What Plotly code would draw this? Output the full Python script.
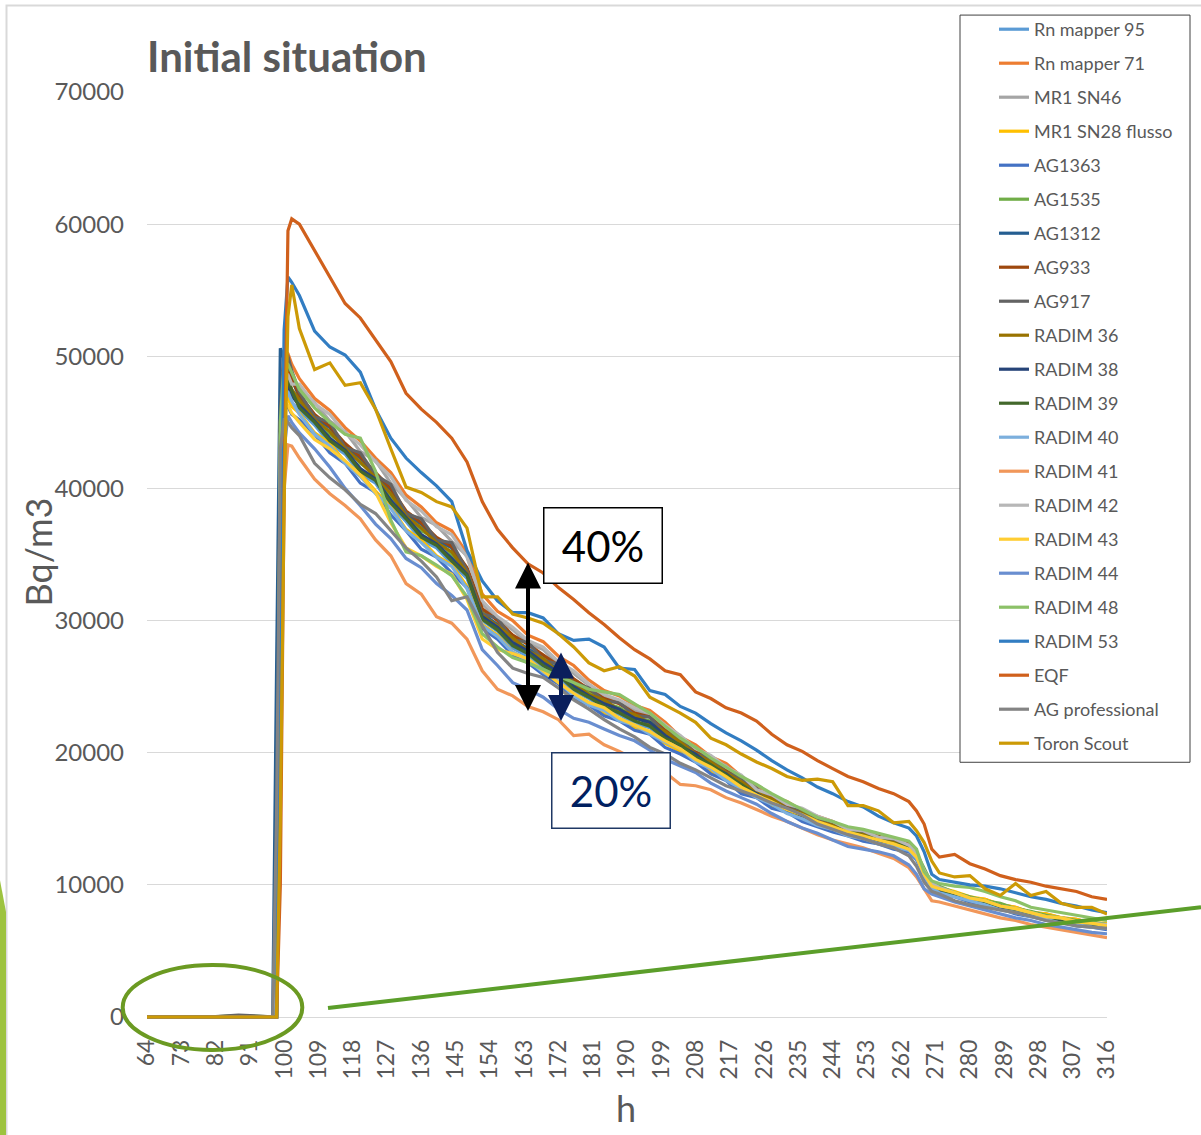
import plotly.graph_objects as go

# ---------------- data ----------------
hours = [64, 72, 80, 88, 96, 97, 98, 99, 100, 101, 102,
         104, 108, 112, 116, 120, 124, 128, 132, 136, 140, 144, 148,
         152, 156, 160, 164, 168, 172, 176,
         180, 184, 188, 192, 196, 200,
         204, 208, 212, 216, 220,
         224, 228, 232, 236, 240,
         244, 248, 252, 256, 260, 264,
         266, 268, 270, 272,
         276, 280, 284, 288, 292, 296, 300, 304, 308, 312, 316]

x_ticks = [64, 73, 82, 91, 100, 109, 118, 127, 136, 145, 154, 163, 172, 181, 190,
           199, 208, 217, 226, 235, 244, 253, 262, 271, 280, 289, 298, 307, 316]
y_ticks = [0, 10000, 20000, 30000, 40000, 50000, 60000, 70000]

series_names = ["Rn mapper 95", "Rn mapper 71", "MR1 SN46", "MR1 SN28 flusso", "AG1363",
                "AG1535", "AG1312", "AG933", "AG917", "RADIM 36", "RADIM 38", "RADIM 39",
                "RADIM 40", "RADIM 41", "RADIM 42", "RADIM 43", "RADIM 44", "RADIM 48",
                "RADIM 53", "EQF", "AG professional", "Toron Scout"]

rn_mapper_95 = [0, 0, 0, 0, 0, 0, 0, 40000, 47500, 47200, 46500,
    45900, 44800, 43400, 42600, 41100, 40400, 38700, 37500, 36100, 35500, 34300, 33200,
    30000, 29200, 27900, 27300, 26400, 25700, 24700,
    24100, 23300, 22900, 22200, 21900, 20900,
    20300, 19700, 18800, 18300, 17300,
    16800, 16100, 15700, 15100, 14700,
    14300, 13800, 13700, 13200, 13000, 12600,
    12100, 10800, 9800, 9600,
    9200, 8800, 8600, 8300, 8000, 7700, 7400, 7300, 7000, 6900, 6800]
rn_mapper_71 = [0, 0, 0, 0, 0, 0, 0, 42000, 50500, 50200, 49400,
    48300, 46800, 45900, 44600, 43600, 42300, 41200, 39500, 38600, 37400, 36800, 35100,
    32000, 30700, 30000, 28900, 28400, 27300, 26600,
    25500, 24700, 24300, 23600, 23200, 22300,
    21200, 20600, 19700, 19200, 18200,
    17400, 16600, 16300, 15600, 15200,
    14800, 14200, 14100, 13600, 13500, 13100,
    12500, 11000, 10100, 9800,
    9400, 9000, 8900, 8500, 8300, 7900, 7800, 7500, 7400, 7100, 7000]
mr1_sn46 = [0, 0, 0, 0, 0, 0, 0, 44000, 48500, 48600, 48000,
    47600, 46500, 45100, 44300, 42800, 42100, 40400, 39200, 37800, 37200, 36000, 34900,
    31300, 30100, 29300, 28300, 27800, 26700, 26000,
    25100, 24300, 23900, 23200, 22900, 21900,
    21000, 20400, 19500, 19000, 18000,
    17300, 16500, 16200, 15500, 15100,
    14600, 14100, 13900, 13500, 13300, 12900,
    12200, 10900, 9900, 9700,
    9200, 8900, 8700, 8300, 8000, 7800, 7500, 7300, 7100, 6900, 6800]
mr1_sn28_flusso = [0, 0, 0, 0, 0, 0, 0, 38000, 47000, 46800, 46200,
    45700, 44200, 43400, 42000, 41100, 39800, 38600, 36900, 36100, 34900, 34200, 32600,
    29700, 28900, 27600, 27000, 26100, 25400, 24400,
    23800, 23000, 22600, 21900, 21600, 20700,
    20100, 19500, 18600, 18100, 17100,
    16800, 16000, 15700, 15000, 14700,
    14400, 14000, 13600, 13500, 13000, 12800,
    12300, 11100, 10000, 9800,
    9500, 9100, 8900, 8500, 8300, 7900, 7800, 7500, 7400, 7100, 7100]
ag1363 = [0, 0, 0, 0, 0, 0, 0, 36000, 46000, 46200, 45600,
    45200, 44100, 42700, 41900, 40400, 39700, 38000, 36800, 35400, 34800, 33600, 32500,
    29400, 28600, 27400, 26800, 25900, 25200, 24100,
    23600, 22800, 22400, 21700, 21400, 20400,
    19900, 19300, 18400, 17900, 16900,
    16600, 15800, 15500, 14800, 14400,
    14000, 13700, 13300, 13100, 12700, 12500,
    11900, 10600, 9700, 9400,
    9100, 8700, 8500, 8200, 7800, 7600, 7300, 7200, 6900, 6800, 6600]
ag1535 = [0, 0, 0, 100, 0, 0, 0, 43000, 48000, 47900, 47300,
    46600, 45500, 44100, 43300, 41900, 41100, 39400, 38200, 36800, 36200, 35000, 33900,
    30700, 29500, 28700, 27800, 27200, 26200, 25400,
    24600, 23800, 23400, 22700, 22400, 21500,
    20900, 19900, 19400, 18500, 17900,
    17000, 16600, 15900, 15600, 15000,
    14700, 14200, 14000, 13600, 13400, 13000,
    12400, 11200, 10100, 9900,
    9400, 9100, 8800, 8600, 8200, 8000, 7700, 7500, 7300, 7200, 7000]
ag1312 = [0, 0, 0, 0, 0, 0, 26000, 50600, 49800, 49300, 48300,
    46900, 45400, 44600, 43200, 42300, 41000, 39900, 38100, 37300, 36100, 35500, 33800,
    30500, 29700, 28500, 27900, 27000, 26300, 25200,
    24300, 23900, 23100, 22800, 22100, 21500,
    20600, 20000, 19100, 18600, 17600,
    17100, 16300, 16000, 15300, 14900,
    14400, 14200, 13700, 13500, 13100, 12900,
    12200, 10900, 9900, 9600,
    9200, 8900, 8600, 8300, 8100, 7700, 7500, 7300, 7100, 6900, 6800]
ag933 = [0, 0, 0, 0, 0, 0, 0, 45000, 49000, 48800, 48200,
    47100, 45600, 44700, 43400, 42400, 41200, 40000, 38300, 37400, 36300, 35600, 34000,
    30900, 30000, 28900, 28200, 27400, 26600, 25600,
    24800, 24100, 23700, 23000, 22700, 21700,
    21100, 20100, 19600, 18700, 18100,
    17200, 16700, 16000, 15700, 15100,
    14600, 14300, 13900, 13700, 13300, 13100,
    12300, 11000, 10000, 9700,
    9300, 9000, 8700, 8400, 8100, 7800, 7600, 7400, 7200, 7000, 6900]
ag917 = [0, 0, 0, 150, 0, 0, 0, 46000, 50400, 50000, 48900,
    47300, 45400, 45000, 43100, 42700, 41000, 40300, 38100, 37700, 36100, 35900, 33800,
    30500, 30200, 28500, 28400, 27000, 26700, 25300,
    24900, 23900, 23800, 22800, 22700, 21500,
    21100, 19900, 19600, 18500, 18100,
    17300, 16400, 16200, 15400, 15100,
    14600, 14000, 13900, 13400, 13300, 12800,
    12300, 10900, 9900, 9600,
    9300, 8900, 8700, 8300, 8100, 7700, 7600, 7300, 7200, 6900, 6900]
radim_36 = [0, 0, 0, 0, 0, 0, 0, 42000, 48500, 48300, 47500,
    46700, 45200, 44300, 43000, 42000, 40800, 39600, 37900, 37000, 35900, 35200, 33600,
    30400, 29600, 28700, 27700, 27100, 26100, 25300,
    24400, 24000, 23200, 22900, 22200, 21600,
    20800, 19900, 19300, 18500, 17800,
    17000, 16500, 15800, 15400, 14800,
    14500, 14000, 13800, 13400, 13200, 12800,
    12200, 10900, 10000, 9700,
    9300, 8900, 8700, 8400, 8000, 7800, 7600, 7300, 7200, 7000, 6900]
radim_38 = [0, 0, 0, 0, 0, 0, 0, 41000, 48000, 47700, 47000,
    46300, 45100, 43800, 42900, 41500, 40700, 39100, 37800, 36500, 35800, 34700, 33500,
    30300, 29500, 28300, 27700, 26800, 26100, 25000,
    24300, 23700, 23300, 22600, 22300, 21300,
    20500, 19900, 19000, 18400, 17500,
    16900, 16200, 15800, 15200, 14800,
    14300, 14000, 13600, 13400, 13000, 12800,
    12100, 10800, 9900, 9600,
    9200, 8900, 8600, 8300, 8000, 7700, 7500, 7300, 7100, 6900, 6800]
radim_39 = [0, 0, 0, 0, 0, 0, 0, 43000, 48500, 48200, 47400,
    46100, 45000, 43600, 42800, 41300, 40600, 38900, 37700, 36300, 35700, 34500, 33400,
    30100, 29300, 28100, 27500, 26600, 25900, 24800,
    24200, 23500, 23000, 22400, 22000, 21100,
    20600, 19700, 19100, 18300, 17600,
    16800, 16300, 15700, 15300, 14700,
    14400, 14100, 13700, 13500, 13100, 12900,
    12300, 11000, 10000, 9700,
    9200, 9000, 8600, 8400, 8000, 7800, 7500, 7400, 7100, 7000, 6800]
radim_40 = [0, 0, 0, 0, 0, 0, 0, 40000, 47500, 47300, 46600,
    45600, 44100, 43200, 41900, 40900, 39600, 38500, 36800, 35900, 34800, 34100, 32400,
    29600, 28800, 27600, 27000, 26100, 25400, 24300,
    23600, 23200, 22400, 22100, 21400, 20800,
    20300, 19300, 18800, 17900, 17300,
    16600, 16100, 15400, 15000, 14500,
    14200, 13700, 13500, 13100, 12900, 12600,
    12000, 10700, 9800, 9400,
    9100, 8800, 8500, 8100, 7900, 7600, 7400, 7100, 7000, 6800, 6700]
radim_41 = [0, 0, 0, 0, 0, 0, 0, 25000, 40000, 43300, 43200,
    42300, 40700, 39600, 38700, 37700, 36100, 34900, 32800, 32000, 30300, 29800, 28600,
    26200, 24800, 24300, 23500, 23100, 22500, 21300,
    21400, 20600, 20100, 19500, 18900, 18500,
    17600, 17500, 17200, 16600, 16200,
    15700, 15200, 14800, 14300, 13800,
    13400, 13100, 12800, 12400, 12000, 11300,
    10600, 9700, 8800, 8700,
    8400, 8100, 7800, 7500, 7300, 7000, 6800, 6600, 6400, 6200, 6000]
radim_42 = [0, 0, 0, 0, 0, 0, 0, 44000, 48700, 48600, 47900,
    47900, 46400, 45600, 44200, 43300, 42000, 40900, 39100, 38300, 37100, 36500, 34800,
    31500, 30300, 29500, 28500, 28000, 26900, 26200,
    25200, 24400, 24000, 23400, 23000, 22100,
    21300, 20300, 19800, 18900, 18300,
    17200, 16800, 16100, 15800, 15200,
    14800, 14200, 14100, 13600, 13500, 13000,
    12400, 11100, 10100, 9800,
    9400, 9000, 8800, 8400, 8200, 7900, 7600, 7500, 7200, 7100, 7000]
radim_43 = [0, 0, 0, 0, 0, 0, 0, 39000, 46600, 46300, 45700,
    45000, 43700, 43000, 42100, 41000, 39700, 37400, 35500, 34900, 34100, 33500, 31600,
    28600, 27800, 27500, 27100, 26200, 25300, 24500,
    23800, 23400, 22600, 22100, 21600, 20900,
    20300, 19500, 18900, 18200, 17400,
    16800, 16300, 15700, 15300, 14800,
    14400, 14000, 13700, 13400, 13100, 12700,
    12100, 10800, 9900, 9700,
    9400, 9000, 8800, 8400, 8200, 7900, 7600, 7500, 7200, 7100, 6900]
radim_44 = [0, 0, 0, 0, 0, 0, 0, 30000, 43000, 45500, 45000,
    44200, 43000, 41600, 40000, 38700, 37300, 36200, 34700, 34000, 32800, 31900, 30800,
    27800, 26600, 25300, 24800, 24200, 23300, 22600,
    22300, 21800, 21300, 20900, 20200, 19500,
    19000, 18500, 17700, 17100, 16600,
    16100, 15400, 14800, 14300, 13900,
    13400, 12900, 12700, 12500, 12200, 11500,
    10800, 9700, 9300, 9100,
    8700, 8400, 8100, 7800, 7500, 7300, 7000, 6800, 6600, 6400, 6300]
radim_48 = [0, 0, 0, 0, 0, 0, 0, 45000, 49600, 49400, 48800,
    47500, 46100, 45000, 44100, 43800, 41300, 37600, 35200, 34900, 34200, 33400, 31800,
    29000, 28000, 27200, 26800, 26300, 25800, 25300,
    24800, 24600, 24400, 23700, 23000, 22000,
    21100, 20400, 19600, 18900, 18200,
    17600, 16900, 16300, 15700, 15100,
    14800, 14400, 14200, 13900, 13600, 13300,
    12700, 11000, 10300, 10100,
    9900, 9800, 9500, 9100, 8800, 8300, 8100, 7900, 7700, 7500, 7300]
radim_53 = [0, 0, 0, 0, 0, 0, 0, 30000, 52000, 56000, 55600,
    54600, 51900, 50700, 50100, 48800, 46000, 43800, 42300, 41200, 40200, 39000, 35300,
    33000, 31500, 30600, 30600, 30200, 29000, 28500,
    28600, 28000, 26400, 26300, 24700, 24400,
    23500, 23000, 22200, 21500, 20900,
    20200, 19400, 18700, 18100, 17400,
    16900, 16300, 15900, 15200, 14700, 14300,
    13700, 12500, 10800, 10400,
    10200, 10000, 9900, 9700, 9400, 9100, 8900, 8600, 8400, 8100, 7900]
eqf = [0, 0, 0, 0, 0, 0, 0, 10000, 40000, 59500, 60400,
    60000, 58000, 56000, 54000, 52900, 51200, 49600, 47200, 46000, 45000, 43800, 42000,
    39000, 36900, 35500, 34300, 33600, 32500, 31600,
    30600, 29700, 28700, 27800, 27100, 26200,
    25900, 24600, 24100, 23400, 23000,
    22400, 21400, 20600, 20100, 19400,
    18800, 18200, 17800, 17300, 16900, 16300,
    15600, 14600, 12700, 12100,
    12300, 11600, 11200, 10700, 10400, 10200, 9900, 9700, 9500, 9100, 8900]
ag_professional = [0, 0, 0, 0, 0, 0, 15000, 43000, 45300, 45000, 44600,
    44000, 41900, 40800, 39900, 38800, 38100, 36800, 35500, 34500, 33300, 31500, 31800,
    29600, 27600, 26400, 26000, 25700, 24900, 24000,
    23300, 22500, 21800, 21200, 20400, 19900,
    19200, 18700, 18100, 17500, 17100,
    16700, 16200, 15800, 15300, 14600,
    14200, 13800, 13500, 13100, 12800, 12200,
    11400, 10200, 9500, 9300,
    8800, 8500, 8300, 8100, 7900, 7600, 7300, 7100, 6900, 6800, 6700]
toron_scout = [0, 0, 0, 0, 0, 0, 0, 15000, 39000, 53000, 55400,
    52100, 49000, 49500, 47800, 48000, 46000, 43000, 40100, 39700, 39000, 38600, 37000,
    31800, 31800, 30500, 30200, 29800, 29000, 28000,
    26800, 26200, 26500, 25800, 24200, 23600,
    23000, 22300, 21100, 20600, 19900,
    19300, 18800, 18200, 17900, 18000,
    17800, 16000, 16000, 15600, 14700, 14800,
    14100, 13200, 11800, 10900,
    10600, 10700, 9700, 9200, 10100, 9200, 9500, 8600, 8300, 8300, 7800]

series_values = [rn_mapper_95, rn_mapper_71, mr1_sn46, mr1_sn28_flusso, ag1363, ag1535,
                 ag1312, ag933, ag917, radim_36, radim_38, radim_39, radim_40, radim_41,
                 radim_42, radim_43, radim_44, radim_48, radim_53, eqf, ag_professional,
                 toron_scout]

series_colors = ["#5B9BD5", "#ED7D31", "#A5A5A5", "#FFC000", "#4472C4", "#70AD47",
                 "#255E91", "#9E480E", "#636363", "#997300", "#264478", "#43682B",
                 "#7CAFDD", "#F1975A", "#B7B7B7", "#FFCD33", "#698ED0", "#8CC168",
                 "#327DC2", "#D0601C", "#848484", "#CC9A06"]

for n, v in zip(series_names, series_values):
    assert len(v) == len(hours), (n, len(v))

# ---------------- layout geometry ----------------
W_FIG, H_FIG = 1201, 1135
L, T = 147, 91
PW, PH = 960, 929
R = W_FIG - L - PW
B = H_FIG - T - PH
FONT = "Lato"
GREY = "#595959"


def px_x(px):
    return (px - L) / PW


def px_y(py):
    return (T + PH - py) / PH


fig = go.Figure()
for name, vals, col in zip(series_names, series_values, series_colors):
    fig.add_trace(go.Scatter(x=hours, y=vals, mode="lines", name=name,
                             legendgroup=name,
                             line=dict(color=col, width=3.2)))

shapes = [
    dict(type="rect", xref="paper", yref="paper", x0=px_x(6.5), x1=px_x(1215),
         y0=px_y(1150), y1=px_y(4.5), line=dict(color="#D9D9D9", width=2),
         fillcolor="rgba(0,0,0,0)", layer="below"),
    dict(type="path", xref="paper", yref="paper",
         path=f"M {px_x(0)},{px_y(880)} L {px_x(6)},{px_y(912)} L {px_x(6)},{px_y(1140)} "
              f"L {px_x(0)},{px_y(1140)} Z",
         fillcolor="#9DC33F", line=dict(width=0), layer="above"),
    dict(type="rect", xref="paper", yref="paper", x0=px_x(960), x1=px_x(1190),
         y0=px_y(762), y1=px_y(14), line=dict(color="#404040", width=1),
         fillcolor="white", layer="above"),
    dict(type="circle", xref="paper", yref="paper", x0=px_x(122.7), x1=px_x(302.3),
         y0=px_y(1050), y1=px_y(965), line=dict(color="#6B9A22", width=4), layer="above"),
    dict(type="line", xref="paper", yref="paper", x0=px_x(328), y0=px_y(1008),
         x1=px_x(1201), y1=px_y(907), line=dict(color="#5B9E2A", width=4), layer="above"),
]

annotations = [
    dict(text="<b>Initial situation</b>", xref="paper", yref="paper", x=px_x(145),
         y=px_y(55), xanchor="left", yanchor="middle", showarrow=False,
         font=dict(family=FONT, size=42, color=GREY)),
    dict(text="h", xref="paper", yref="paper", x=px_x(626), y=px_y(1108),
         xanchor="center", yanchor="middle", showarrow=False,
         font=dict(family=FONT, size=36, color=GREY)),
    dict(text="Bq/m3", xref="paper", yref="paper", x=px_x(38), y=px_y(552),
         xanchor="center", yanchor="middle", showarrow=False, textangle=-90,
         font=dict(family=FONT, size=36, color=GREY)),
    dict(text="40%", xref="paper", yref="paper", x=px_x(602.5), y=px_y(544.5),
         xanchor="center", yanchor="middle", showarrow=False, width=117, height=74,
         bordercolor="#000000", borderwidth=1.5, borderpad=0, bgcolor="white",
         font=dict(family=FONT, size=42, color="#000000")),
    dict(text="20%", xref="paper", yref="paper", x=px_x(610.5), y=px_y(790),
         xanchor="center", yanchor="middle", showarrow=False, width=117, height=74,
         bordercolor="#1F3864", borderwidth=1.5, borderpad=0, bgcolor="white",
         font=dict(family=FONT, size=42, color="#002060")),
    dict(text="", xref="paper", yref="paper", x=px_x(528), y=px_y(562),
         ax=0, ay=150,
         showarrow=True, arrowside="end+start", arrowhead=2, arrowsize=1.3,
         arrowwidth=4, arrowcolor="#000000"),
    dict(text="", xref="paper", yref="paper", x=px_x(561), y=px_y(652),
         ax=0, ay=70,
         showarrow=True, arrowside="end+start", arrowhead=2, arrowsize=1.3,
         arrowwidth=4, arrowcolor="#0B1F5C"),
]

fig.update_layout(
    width=W_FIG, height=H_FIG, autosize=False,
    margin=dict(l=L, r=R, t=T, b=B, pad=0),
    paper_bgcolor="white", plot_bgcolor="white",
    font=dict(family=FONT, color=GREY),
    showlegend=True,
    legend=dict(x=px_x(994), y=px_y(11), xanchor="left", yanchor="top",
                bgcolor="rgba(0,0,0,0)", borderwidth=0, tracegroupgap=7.6,
                maxheight=1100,
                font=dict(family=FONT, size=18, color=GREY), itemwidth=30),
    shapes=shapes,
    annotations=annotations,
)

fig.update_xaxes(range=[64, 316], tickmode="array", tickvals=x_ticks,
                 ticktext=[str(t) for t in x_ticks], tickangle=-90,
                 showgrid=False, zeroline=False, showline=False, ticks="",
                 ticklabelstandoff=14,
                 tickfont=dict(family=FONT, size=23, color=GREY))
fig.update_yaxes(range=[-227, 70000], tickmode="array", tickvals=y_ticks,
                 ticktext=[str(t) for t in y_ticks],
                 showgrid=True, gridcolor="#D9D9D9", gridwidth=1,
                 zeroline=False, showline=False, ticks="",
                 ticklabelstandoff=22,
                 tickfont=dict(family=FONT, size=24, color=GREY))

fig.write_html("out.html")
